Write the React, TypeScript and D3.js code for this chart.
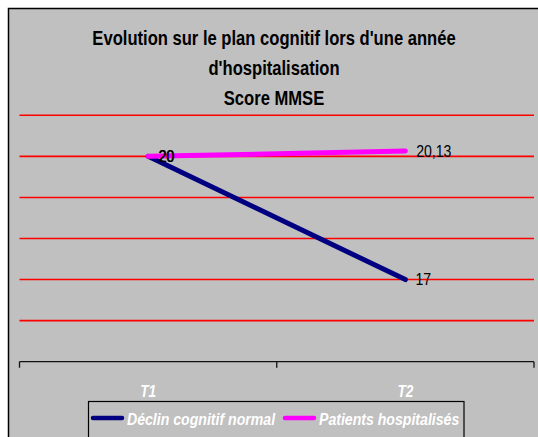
import React from "react";
import * as d3 from "d3";

const categories = ["T1", "T2"];
const declinValues = [20, 17];
const patientsValues = [20, 20.13];
const seriesNames = ["Déclin cognitif normal", "Patients hospitalisés"];
const titleLines = [
  "Evolution sur le plan cognitif lors d'une année",
  "d'hospitalisation",
  "Score MMSE",
];

// Arial-metric font squeezed horizontally to look like Arial Narrow
const FONT = "'Liberation Sans', Arial, sans-serif";
const SQUEEZE = 0.83;

type NarrowProps = {
  x: number;
  y: number;
  children: React.ReactNode;
  anchor?: "start" | "middle" | "end";
  size: number;
  bold?: boolean;
  italic?: boolean;
  fill?: string;
};

function Narrow({ x, y, children, anchor = "start", size, bold, italic, fill = "#000" }: NarrowProps) {
  return (
    <text
      transform={`translate(${x},${y}) scale(${SQUEEZE},1)`}
      textAnchor={anchor}
      fontFamily={FONT}
      fontSize={size}
      fontWeight={bold ? "bold" : "normal"}
      fontStyle={italic ? "italic" : "normal"}
      fill={fill}
    >
      {children}
    </text>
  );
}

export default function App() {
  const width = 538;
  const height = 437;
  const plot = { left: 19.5, right: 534, top: 115.3, bottom: 361.7 };

  const x = d3.scaleBand<string>().domain(categories).range([plot.left, plot.right]);
  const cx = (c: string) => (x(c) ?? 0) + x.bandwidth() / 2;
  const y = d3.scaleLinear().domain([15, 21]).range([plot.bottom, plot.top]);
  const gridVals = y.ticks(6).filter((t) => t > 15);

  const series = [
    { name: seriesNames[0], values: declinValues, color: "#000080" },
    { name: seriesNames[1], values: patientsValues, color: "#ff00ff" },
  ];

  const line = d3
    .line<number>()
    .x((_, i) => cx(categories[i]))
    .y((d) => y(d));

  const fmt = (v: number) => d3.format("~r")(v).replace(".", ",");
  const tickXs = [plot.left, ...categories.map((c) => (x(c) ?? 0) + x.bandwidth())];

  return (
    <svg
      width={width}
      height={height}
      style={{ position: "absolute", left: 0, top: 0 }}
    >
      <rect x={0} y={0} width={width} height={height} fill="#ffffff" />
      <rect x={8.5} y={8.5} width={width + 20} height={height + 20} fill="#c0c0c0" stroke="#000" strokeWidth={1.5} />

      {/* title */}
      {titleLines.map((t, i) => (
        <Narrow key={i} x={274} y={45 + i * 30} anchor="middle" size={20} bold>
          {t}
        </Narrow>
      ))}

      {/* gridlines */}
      {gridVals.map((v) => (
        <line key={v} x1={plot.left} x2={plot.right} y1={y(v)} y2={y(v)} stroke="#ff0000" strokeWidth={1.6} />
      ))}

      {/* x axis */}
      <line x1={plot.left} x2={plot.right} y1={plot.bottom} y2={plot.bottom} stroke="#111" strokeWidth={1.3} />
      {tickXs.map((tx, i) => (
        <line key={i} x1={tx} x2={tx} y1={plot.bottom} y2={plot.bottom + 6} stroke="#111" strokeWidth={1.3} />
      ))}
      {categories.map((c) => (
        <Narrow key={c} x={cx(c)} y={397} anchor="middle" size={16.5} bold italic fill="#ffffff">
          {c}
        </Narrow>
      ))}

      {/* lines */}
      {series.map((s) => (
        <path
          key={s.name}
          d={line(s.values) ?? ""}
          fill="none"
          stroke={s.color}
          strokeWidth={5}
          strokeLinecap="round"
        />
      ))}

      {/* data labels */}
      {series.map((s, si) =>
        s.values.map((v, i) => (
          <Narrow key={`${si}-${i}`} x={cx(categories[i]) + 10 + si * 0.8} y={y(v) + 5.5} size={17}>
            {fmt(v)}
          </Narrow>
        ))
      )}

      {/* legend */}
      <rect x={88.5} y={401.5} width={375.5} height={50} fill="none" stroke="#000" strokeWidth={1.2} />
      {series.map((s, i) => {
        const lx = i === 0 ? 93 : 285;
        return (
          <g key={s.name}>
            <line x1={lx} x2={lx + 29} y1={418} y2={418} stroke={s.color} strokeWidth={4.5} strokeLinecap="round" />
            <Narrow x={lx + 34} y={425} size={17} bold italic fill="#ffffff">
              {s.name}
            </Narrow>
          </g>
        );
      })}
    </svg>
  );
}
